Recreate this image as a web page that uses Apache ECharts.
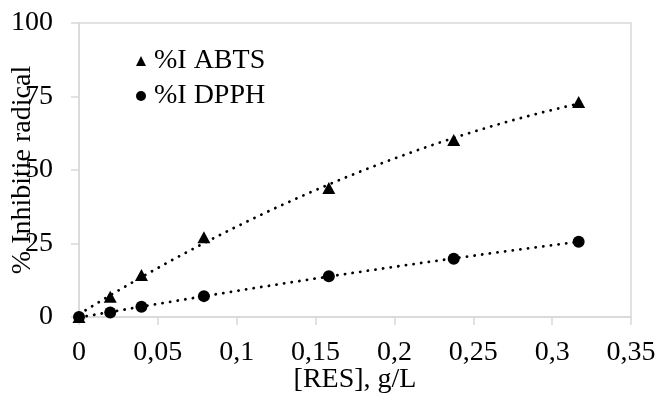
<!DOCTYPE html>
<html>
<head>
<meta charset="utf-8">
<script src="https://cdn.jsdelivr.net/npm/echarts@6/dist/echarts.min.js"></script>
<style>html,body{margin:0;padding:0;background:#fff}#c{width:658px;height:395px}</style>
</head>
<body>
<div id="c"></div>
<script>
const concentrations = [0, 0.0198, 0.0396, 0.0792, 0.1584, 0.2376, 0.3168];
const abtsValues = [0, 6.9, 14.3, 27.1, 43.9, 60.2, 73.1];
const dpphValues = [0, 1.5, 3.5, 7.1, 13.9, 19.8, 25.6];
const seriesNames = ['%I ABTS', '%I DPPH'];
const xTitle = '[RES], g/L';
const yTitle = '% Inhibitie radical';

function polyFit2(xs, ys) {
  let S = [[0,0,0],[0,0,0],[0,0,0]], T = [0,0,0];
  for (let i = 0; i < xs.length; i++) {
    const p = [1, xs[i], xs[i]*xs[i]];
    for (let r = 0; r < 3; r++) { T[r] += p[r]*ys[i]; for (let c = 0; c < 3; c++) S[r][c] += p[r]*p[c]; }
  }
  const M = S.map((row, i) => row.concat([T[i]]));
  for (let i = 0; i < 3; i++) {
    let piv = i;
    for (let k = i+1; k < 3; k++) if (Math.abs(M[k][i]) > Math.abs(M[piv][i])) piv = k;
    [M[i], M[piv]] = [M[piv], M[i]];
    for (let k = 0; k < 3; k++) if (k !== i) {
      const f = M[k][i] / M[i][i];
      for (let j = i; j < 4; j++) M[k][j] -= f * M[i][j];
    }
  }
  const coef = [M[0][3]/M[0][0], M[1][3]/M[1][1], M[2][3]/M[2][2]];
  return x => coef[0] + coef[1]*x + coef[2]*x*x;
}
function trend(xs, ys) {
  const f = polyFit2(xs, ys);
  const out = [];
  const x0 = xs[0], x1 = xs[xs.length-1];
  for (let i = 0; i <= 60; i++) { const x = x0 + (x1-x0)*i/60; out.push([x, f(x)]); }
  return out;
}
const font = '"Liberation Serif", "Times New Roman", serif';
const FS = 28;
const chart = echarts.init(document.getElementById('c'), null, {renderer: 'canvas'});
const dotted = {color: '#000', width: 2.8, type: [0.1, 7.6], cap: 'round'};
chart.setOption({
  animation: false,
  textStyle: {fontFamily: font},
  grid: {left: 79, top: 23, right: 27, bottom: 78, show: true, borderColor: '#d9d9d9', borderWidth: 1.5,
    containLabel: false, outerBoundsMode: 'none'},
  legend: {
    data: [{name: seriesNames[0], icon: 'triangle'}, {name: seriesNames[1], icon: 'circle'}],
    orient: 'vertical', left: 131, top: 42, itemWidth: 10, itemHeight: 10, itemGap: 7,
    textStyle: {fontFamily: font, fontSize: FS, color: '#000', lineHeight: 28, padding: [0,0,0,3]}
  },
  xAxis: {
    type: 'value', min: 0, max: 0.35, interval: 0.05,
    name: xTitle, nameLocation: 'middle', nameGap: 49, nameMoveOverlap: false,
    nameTextStyle: {fontFamily: font, fontSize: FS, color: '#000'},
    axisLine: {lineStyle: {color: '#d9d9d9', width: 1.5}},
    axisTick: {show: true, length: 8, lineStyle: {color: '#d9d9d9', width: 1.5}},
    splitLine: {show: false},
    axisLabel: {fontFamily: font, fontSize: FS, color: '#000', margin: 22,
      formatter: v => String(Math.round(v*100)/100).replace('.', ',')}
  },
  yAxis: {
    type: 'value', min: 0, max: 100, interval: 25,
    name: yTitle, nameLocation: 'middle', nameGap: 42, nameRotate: 90, nameMoveOverlap: false,
    nameTextStyle: {fontFamily: font, fontSize: FS, color: '#000'},
    axisLine: {show: true, lineStyle: {color: '#d9d9d9', width: 1.5}},
    axisTick: {show: true, length: 8, lineStyle: {color: '#d9d9d9', width: 1.5}},
    splitLine: {show: false},
    axisLabel: {fontFamily: font, fontSize: FS, color: '#000', margin: 26}
  },
  series: [
    {name: 'trendA', type: 'line', showSymbol: false, smooth: false, data: trend(concentrations, abtsValues), lineStyle: dotted, silent: true, z: 1},
    {name: 'trendD', type: 'line', showSymbol: false, smooth: false, data: trend(concentrations, dpphValues), lineStyle: dotted, silent: true, z: 1},
    {name: seriesNames[0], type: 'scatter', symbol: 'triangle', symbolSize: [13, 12],
      itemStyle: {color: '#000', opacity: 1}, data: concentrations.map((x, i) => [x, abtsValues[i]]), z: 3},
    {name: seriesNames[1], type: 'scatter', symbol: 'circle', symbolSize: 12,
      itemStyle: {color: '#000', opacity: 1}, data: concentrations.map((x, i) => [x, dpphValues[i]]), z: 3}
  ]
});
</script>
</body>
</html>
